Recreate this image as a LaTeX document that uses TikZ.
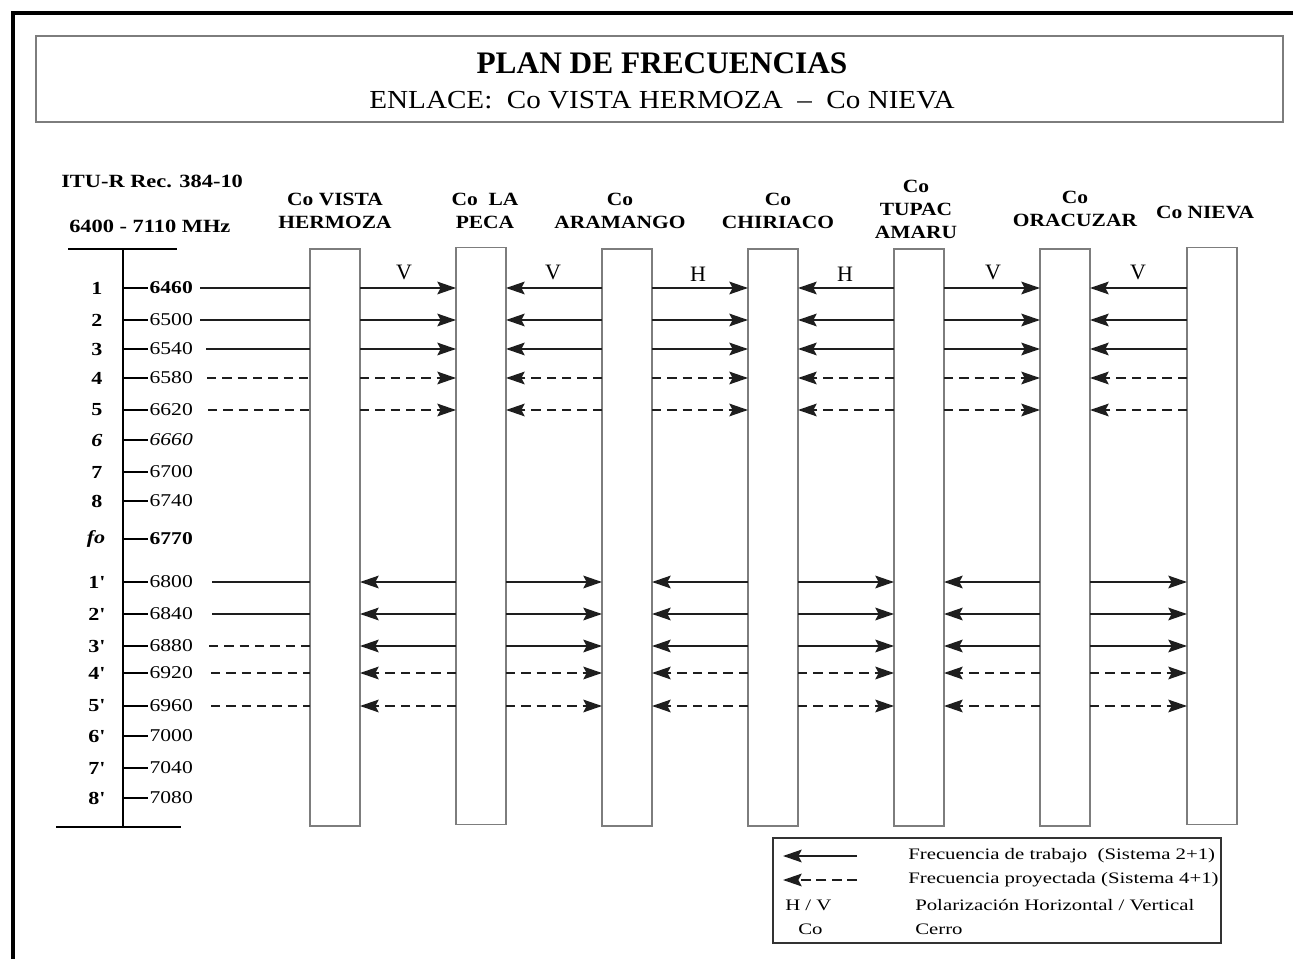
\documentclass[tikz,border=0pt]{standalone}
\usepackage{fontspec}
\setmainfont{Liberation Serif}
\newfontfamily\ftitle{Liberation Serif}
\newfontfamily\fsubt{Liberation Serif}[FakeStretch=1.12]
\newfontfamily\fstn{Liberation Serif}[FakeStretch=1.15]
\newfontfamily\faxis{Liberation Serif}[FakeStretch=1.2]
\newfontfamily\fleg{Liberation Serif}[FakeStretch=1.3]
\usetikzlibrary{arrows.meta}
\definecolor{boxgray}{RGB}{125,125,125}
\definecolor{arrowc}{RGB}{30,30,30}
\begin{document}
\begin{tikzpicture}[x=0.75pt,y=-0.75pt,
  stn/.style={draw=boxgray, line width=1pt, inner sep=0pt, outer sep=0pt,
    minimum width=37.5pt, minimum height=432.75pt},
  wline/.style={line width=1.5pt, draw=arrowc},
  pline/.style={wline, dash pattern=on 7pt off 4.5pt},
  tip/.style={-{Stealth[length=14pt,width=9.5pt,inset=2.5pt]}},
  axl/.style={line width=1.3pt, draw=black},
  stnlab/.style={font=\fstn\bfseries\fontsize{14}{17.25}\selectfont, align=center, inner sep=0pt},
  pol/.style={font=\ftitle\fontsize{16.5}{18}\selectfont, inner sep=0pt},
  num/.style={font=\faxis\fontsize{13.5}{16}\selectfont, inner sep=1pt, anchor=west},
  idx/.style={font=\faxis\bfseries\fontsize{13.8}{16}\selectfont, inner sep=0pt},
  leg/.style={font=\fleg\fontsize{12}{14}\selectfont, inner sep=0pt, anchor=west}
]
\useasboundingbox (0,0) rectangle (1293,959);
\fill[white] (0,0) rectangle (1293,959);

% outer frame
\coordinate (fbl) at (13,959);
\coordinate (ftl) at (13,13);
\coordinate (ftr) at (1293,13);
\draw[line width=2.3pt] (fbl) -- (ftl) -- (ftr);

% title box
\node[draw=boxgray, line width=1pt, minimum width=935.25pt, minimum height=64.5pt, inner sep=0pt] (titlebox) at (659.5,79) {};
\node[font=\ftitle\bfseries\fontsize{23.5}{28}\selectfont, inner sep=0pt] (title) at (662,63) {PLAN DE FRECUENCIAS};
\node[font=\fsubt\fontsize{19.5}{24}\selectfont, inner sep=0pt] (subtitle) at (662,100) {ENLACE:\ \ Co VISTA HERMOZA\ \ –\ \ Co NIEVA};

% left header
\node[font=\faxis\bfseries\fontsize{14}{17}\selectfont, inner sep=0pt, anchor=west] (itu) at (61,181) {ITU-R Rec. 384-10};
\node[font=\faxis\bfseries\fontsize{14}{17}\selectfont, inner sep=0pt, anchor=west] (band) at (69,226) {6400 - 7110 MHz};

% axis
\coordinate (ax) at (123,249);
\coordinate (axb) at (123,827);
\coordinate (tbl) at (68,249);
\coordinate (tbr) at (177,249);
\coordinate (bbl) at (56,827);
\coordinate (bbr) at (181,827);
\draw[axl] (ax) -- (axb);
\draw[axl] (tbl) -- (tbr);
\draw[axl] (bbl) -- (bbr);

% index labels and frequencies
\node[idx] (i1) at (97,288) {1};   \node[num, font=\faxis\bfseries\fontsize{13.5}{16}\selectfont] (f1) at (148,288) {6460};
\node[idx] (i2) at (97,320) {2};   \node[num] (f2) at (148,320) {6500};
\node[idx] (i3) at (97,349) {3};   \node[num] (f3) at (148,349) {6540};
\node[idx] (i4) at (97,378) {4};   \node[num] (f4) at (148,378) {6580};
\node[idx] (i5) at (97,410) {5};   \node[num] (f5) at (148,410) {6620};
\node[idx, font=\faxis\bfseries\itshape\fontsize{13.8}{16}\selectfont] (i6) at (97,440) {6};   \node[num, font=\faxis\itshape\fontsize{13.5}{16}\selectfont] (f6) at (148,440) {6660};
\node[idx] (i7) at (97,472) {7};   \node[num] (f7) at (148,472) {6700};
\node[idx] (i8) at (97,501) {8};   \node[num] (f8) at (148,501) {6740};
\node[idx, font=\faxis\bfseries\itshape\fontsize{13.8}{16}\selectfont] (ifo) at (96,539) {fo}; \node[num, font=\faxis\bfseries\fontsize{13.5}{16}\selectfont] (ffo) at (148,539) {6770};
\node[idx] (j1) at (97,582) {1'};  \node[num] (g1) at (148,582) {6800};
\node[idx] (j2) at (97,614) {2'};  \node[num] (g2) at (148,614) {6840};
\node[idx] (j3) at (97,646) {3'};  \node[num] (g3) at (148,646) {6880};
\node[idx] (j4) at (97,673) {4'};  \node[num] (g4) at (148,673) {6920};
\node[idx] (j5) at (97,706) {5'};  \node[num] (g5) at (148,706) {6960};
\node[idx] (j6) at (97,736) {6'};  \node[num] (g6) at (148,736) {7000};
\node[idx] (j7) at (97,768) {7'};  \node[num] (g7) at (148,768) {7040};
\node[idx] (j8) at (97,798) {8'};  \node[num] (g8) at (148,798) {7080};
\foreach \n in {f1,f2,f3,f4,f5,f6,f7,f8,ffo,g1,g2,g3,g4,g5,g6,g7,g8}
  \draw[axl, line width=1pt] (ax |- \n.west) -- (\n.west);

% station boxes
\node[stn] (vh) at (335,537.5) {};
\node[stn] (lp) at (481,536) {};
\node[stn] (ar) at (627,537.5) {};
\node[stn] (ch) at (773,537.5) {};
\node[stn] (tu) at (919,537.5) {};
\node[stn] (or) at (1065,537.5) {};
\node[stn] (ni) at (1212,536) {};

% station labels
\node[stnlab] (tvh) at (335,210.5) {Co VISTA\\HERMOZA};
\node[stnlab] (tlp) at (485,210.5) {Co\ \ LA\\PECA};
\node[stnlab] (tar) at (620,210.5) {Co\\ARAMANGO};
\node[stnlab] (tch) at (778,210.5) {Co\\CHIRIACO};
\node[stnlab] (ttu) at (916,209.5) {Co\\TUPAC\\AMARU};
\node[stnlab] (tor) at (1075,209) {Co\\ORACUZAR};
\node[stnlab] (tni) at (1205,212) {Co NIEVA};

% polarization labels
\node[pol] (p1) at (404,272) {V};
\node[pol] (p2) at (553,272) {V};
\node[pol] (p3) at (698,274) {H};
\node[pol] (p4) at (845,274) {H};
\node[pol] (p5) at (993,272) {V};
\node[pol] (p6) at (1138,272) {V};

% upper group arrows
\foreach \yy/\ls/\gs/\sx in {288/wline/wline/200, 320/wline/wline/200, 349/wline/wline/206, 378/pline/pline/207, 410/pline/pline/208} {
  \coordinate (s) at (\sx,\yy);
  \draw[\ls] (s) -- (vh.west |- s);
  \draw[\gs,tip] (vh.east |- s) -- (lp.west |- s);
  \draw[\gs,tip] (ar.west |- s) -- (lp.east |- s);
  \draw[\gs,tip] (ar.east |- s) -- (ch.west |- s);
  \draw[\gs,tip] (tu.west |- s) -- (ch.east |- s);
  \draw[\gs,tip] (tu.east |- s) -- (or.west |- s);
  \draw[\gs,tip] (ni.west |- s) -- (or.east |- s);
}
% lower group arrows
\foreach \yy/\ls/\gs/\sx in {582/wline/wline/212, 614/wline/wline/212, 646/pline/wline/209, 673/pline/pline/211, 706/pline/pline/211} {
  \coordinate (s) at (\sx,\yy);
  \draw[\ls] (s) -- (vh.west |- s);
  \draw[\gs,tip] (lp.west |- s) -- (vh.east |- s);
  \draw[\gs,tip] (lp.east |- s) -- (ar.west |- s);
  \draw[\gs,tip] (ch.west |- s) -- (ar.east |- s);
  \draw[\gs,tip] (ch.east |- s) -- (tu.west |- s);
  \draw[\gs,tip] (or.west |- s) -- (tu.east |- s);
  \draw[\gs,tip] (or.east |- s) -- (ni.west |- s);
}

% legend
\node[draw=black!80, line width=1.2pt, minimum width=336pt, minimum height=78.75pt, inner sep=0pt] (legend) at (997,890.5) {};
\coordinate (la1s) at (857,856);
\coordinate (la1e) at (783,856);
\coordinate (la2s) at (857,880);
\coordinate (la2e) at (783,880);
\draw[wline,tip] (la1s) -- (la1e);
\draw[wline, dash pattern=on 7.5pt off 4pt, tip] (la2s) -- (la2e);
\node[leg] (lg1) at (908,856) {Frecuencia de trabajo\ \ (Sistema 2+1)};
\node[leg] (lg2) at (908,880) {Frecuencia proyectada (Sistema 4+1)};
\node[leg] (lg3) at (915,905) {Polarización Horizontal / Vertical};
\node[leg] (lg4) at (915,929) {Cerro};
\node[leg] (lh) at (785,905) {H / V};
\node[leg] (lc) at (798,929) {Co};
\end{tikzpicture}
\end{document}
